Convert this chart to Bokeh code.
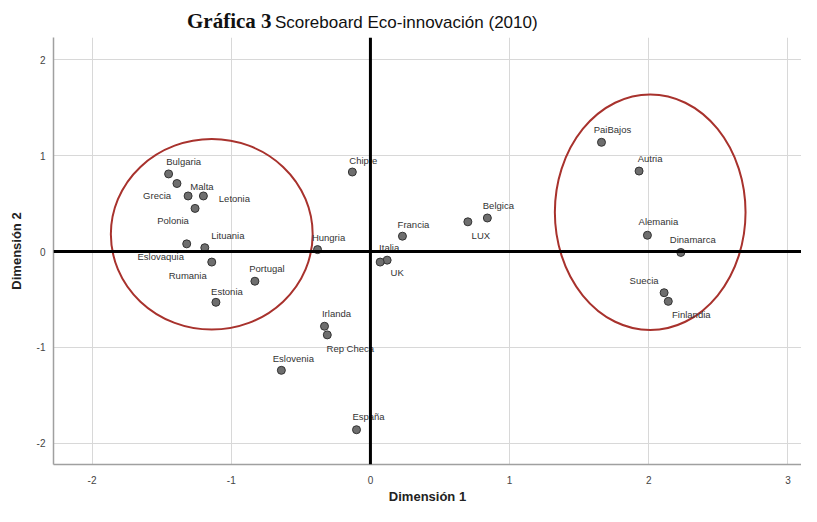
from bokeh.plotting import figure
from bokeh.models import ColumnDataSource, Span, FixedTicker, Div
from bokeh.layouts import column
from bokeh.core.properties import value
from bokeh.embed import file_html
from bokeh.resources import INLINE

# ---- data ----
title_main = "Gráfica 3"
title_sub = "Scoreboard Eco-innovación (2010)"
countries = ["Bulgaria", "Malta", "Grecia", "Letonia", "Polonia", "Eslovaquia", "Lituania",
             "Rumania", "Portugal", "Estonia", "Chipre", "Hungria", "Francia", "LUX", "Belgica",
             "Italia", "UK", "Irlanda", "Rep Checa", "Eslovenia", "España", "PaiBajos", "Autria",
             "Alemania", "Dinamarca", "Suecia", "Finlandia"]
dim1 = [-1.45, -1.39, -1.31, -1.20, -1.26, -1.32, -1.19, -1.14, -0.83, -1.11, -0.13, -0.38,
        0.23, 0.70, 0.84, 0.12, 0.07, -0.33, -0.31, -0.64, -0.10, 1.66, 1.93, 1.99, 2.23,
        2.11, 2.14]
dim2 = [0.81, 0.71, 0.58, 0.58, 0.45, 0.08, 0.04, -0.11, -0.31, -0.53, 0.83, 0.02, 0.16,
        0.31, 0.35, -0.09, -0.11, -0.78, -0.87, -1.24, -1.86, 1.14, 0.84, 0.17, -0.01,
        -0.43, -0.52]

cluster_cx = [-1.14, 2.01]
cluster_cy = [0.18, 0.41]
cluster_w = [1.45, 1.37]
cluster_h = [1.99, 2.46]

x_ticks = [-2, -1, 0, 1, 2, 3]
x_tick_labels = ["-2", "-1", "0", "1", "2", "3"]
y_ticks = [-2, -1, 0, 1, 2]
y_tick_labels = ["-2", "-1", "0", "1", "2"]

# label placement offsets (pixels, screen; y down)
lab_dx = [15, 25, -31, 31, -22, -26, 23, -24, 12, 11, 11, 11, 11, 13, 11, 2, 17, 12, 23,
          12, 12, 11, 11, 11, 12, -20, 23]
lab_dy = [-12, 3, 0, 3, 12, 13, -12, 13, -13, -11, -12, -12, -12, 14, -12, -13, 10, -13,
          14, -12, -13, -13, -13, -14, -13, -12, 13]

src = ColumnDataSource(dict(x=dim1, y=dim2, name=countries, dx=lab_dx, dy=lab_dy))

title_html = (
    '<span style="font-family:\'Liberation Serif\';font-weight:bold;font-size:21px;'
    'color:#111">' + title_main + '</span>&nbsp;'
    '<span style="font-family:\'Liberation Sans\';font-size:17px;color:#111">'
    + title_sub + '</span>'
)
header = Div(text=title_html, width=801, height=34, margin=(0, 0, 0, 0),
             styles={"padding-left": "187px", "padding-top": "10px", "white-space": "nowrap",
                     "line-height": "22px"})

p = figure(width=801, height=472, output_backend="svg", toolbar_location=None,
           x_range=(-2.277, 3.097), y_range=(-2.223, 2.234),
           min_border_left=53, min_border_right=0, min_border_top=3, min_border_bottom=42,
           margin=(0, 0, 0, 0))
p.outline_line_color = None
p.background_fill_color = "white"
p.border_fill_color = "white"

p.xgrid.grid_line_color = "#d8d8d8"
p.ygrid.grid_line_color = "#d8d8d8"
p.xaxis.ticker = FixedTicker(ticks=x_ticks)
p.yaxis.ticker = FixedTicker(ticks=y_ticks)
p.xaxis.major_label_overrides = dict(zip(x_ticks, x_tick_labels))
p.yaxis.major_label_overrides = dict(zip(y_ticks, y_tick_labels))
for ax in (p.xaxis, p.yaxis):
    ax.axis_line_color = "#a0a0a0"
    ax.axis_line_width = 1.5
    ax.major_tick_line_color = None
    ax.minor_tick_line_color = None
    ax.major_tick_out = 0
    ax.major_tick_in = 0
    ax.major_label_text_font = "Liberation Sans"
    ax.major_label_text_font_size = "10px"
    ax.major_label_text_color = "#444444"
    ax.axis_label_text_font = "Liberation Sans"
    ax.axis_label_text_font_size = "13px"
    ax.axis_label_text_font_style = "bold"
    ax.axis_label_text_color = "#222222"
p.xaxis.axis_label = "Dimensión 1"
p.yaxis.axis_label = "Dimensión 2"
p.xaxis.major_label_standoff = 11
p.xaxis.axis_label_standoff = 2
p.yaxis.major_label_standoff = 8
p.yaxis.axis_label_standoff = 10

p.add_layout(Span(location=0, dimension="width", line_color="black", line_width=3))
p.add_layout(Span(location=0, dimension="height", line_color="black", line_width=3))

p.ellipse(x=cluster_cx, y=cluster_cy, width=cluster_w, height=cluster_h,
          fill_color=None, line_color="#a8322d", line_width=2)

p.scatter(x="x", y="y", source=src, size=8, fill_color="#6e6e6e", line_color="#333333",
          line_width=1)
p.text(x="x", y="y", text="name", source=src, x_offset="dx", y_offset="dy",
       text_font=value("Liberation Sans"), text_font_size="9.5px", text_color="#333333",
       text_align="center", text_baseline="middle")

layout = column(header, p, spacing=0)
open("out.html", "w").write(file_html(layout, INLINE))
